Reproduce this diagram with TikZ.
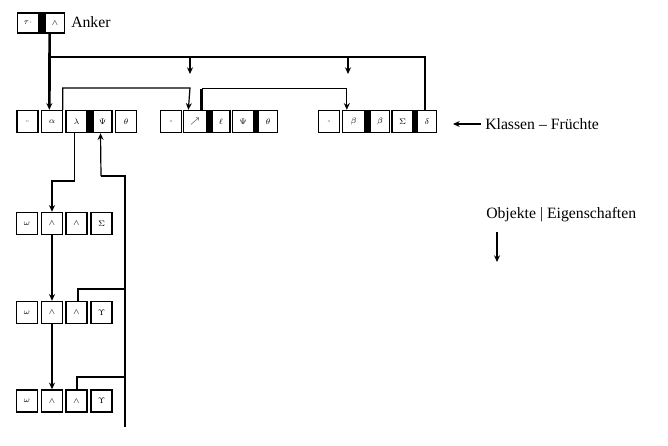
\documentclass[tikz,border=0pt]{standalone}
\usepackage{fontspec}
\setmainfont{Liberation Serif}
\usetikzlibrary{arrows.meta,calc}
\begin{document}
\begin{tikzpicture}[x=0.75pt,y=-0.75pt,
  cell/.style={draw,line width=1.1pt,minimum width=15.5pt,minimum height=16.5pt,inner sep=0pt,font=\fontsize{6.5}{6.5}\selectfont},
  bar/.style={fill=black},
  conn/.style={line width=0.9pt},
  thick conn/.style={line width=2pt},
  arr/.style={-{Stealth[length=5pt,width=4.5pt]}},
  lbl/.style={font=\fontsize{11.8}{13}\selectfont,anchor=west,inner sep=0pt}]
\useasboundingbox (0,0) rectangle (668,446);
% Anker
\node[cell,minimum height=15pt] (a1) at (28,23) {$\tau\cdot$};
\node[cell,minimum height=15pt,minimum width=14pt] (a2) at (55,23) {$\wedge$};
\fill[bar] (a1.north east) rectangle (a2.south west);
\node[lbl] (anker) at (71,22) {Anker};
% Group 1
\node[cell] (g1) at (27.5,121.5) {$\cdot\!\cdot$};
\node[cell] (g2) at (52,121.5) {$\alpha$};
\node[cell] (g3) at (76.5,121.5) {$\lambda$};
\node[cell,minimum width=14pt] (g4) at (102.5,121.5) {$\Psi$};
\node[cell] (g5) at (126,121.5) {$\theta$};
\fill[bar] (g3.north east) rectangle (g4.south west);
% Group 2
\node[cell] (h1) at (171,121.5) {$\cdot\!\cdot$};
\node[cell,minimum width=17pt] (h2) at (195,121.5) {$\nearrow$};
\node[cell,minimum width=13.5pt] (h3) at (221,121.5) {$\ell$};
\node[cell] (h4) at (243,121.5) {$\Psi$};
\node[cell,minimum width=14.5pt] (h5) at (268,121.5) {$\theta$};
\fill[bar] (h2.north east) rectangle (h3.south west);
\fill[bar] (h4.north east) rectangle (h5.south west);
% Group 3
\node[cell] (d1) at (329,121.5) {$\cdot\!\cdot$};
\node[cell,minimum width=16.5pt] (d2) at (353.5,121.5) {$\beta$};
\node[cell,minimum width=14.5pt] (d3) at (380,121.5) {$\beta$};
\node[cell] (d4) at (402.5,121.5) {$\Sigma$};
\node[cell,minimum width=14.5pt] (d5) at (427,121.5) {$\delta$};
\fill[bar] (d2.north east) rectangle (d3.south west);
\fill[bar] (d4.north east) rectangle (d5.south west);
% Klassen label
\node[lbl] (kl) at (485,124) {Klassen -- Früchte};
\draw[conn,arr] (kl.west) ++(-4,0) coordinate (klw) -- ++(-28,0);
% Objekte label
\node[lbl] (ob) at (486,215) {Objekte | Eigenschaften};
\coordinate (obs) at (497,232);
\draw[conn,arr] (obs) -- ++(0,30);
% object rows
\foreach \r/\yy/\s in {1/223.5/\Sigma,2/312.5/\Upsilon,3/401/\Upsilon}{
  \node[cell] (o\r1) at (27,\yy) {$\omega$};
  \node[cell] (o\r2) at (52,\yy) {$\wedge$};
  \node[cell] (o\r3) at (76.5,\yy) {$\wedge$};
  \node[cell] (o\r4) at (101.5,\yy) {$\s$};
}
% Anker connectors
\draw[thick conn,arr] ([xshift=-4]a2.south) -- ([xshift=-2]g2.north);
\draw[conn] ([xshift=-4]a2.south |- 0,57) -- (425,57) coordinate (tr) -- (d5.north -| tr);
\draw[conn,arr] (190,57) -- (190,74);
\draw[conn,arr] (348,57) -- (348,74);
% second level
\draw[conn,arr] ([xshift=8]g2.north) |- (190,88) -- ([xshift=-5]h2.north);
\draw[thick conn] ([xshift=5]h2.north) -- ++(0,-21);
\draw[conn,arr] ([xshift=5]h2.north) ++(0,-21) -| ([xshift=-5]d2.north);
% objects connectors
\draw[conn,arr] ([xshift=-1.5]g3.south) |- (52,181) -- (o12.north);
\draw[conn,arr] (o12.south) -- (o22.north);
\draw[conn,arr] (o22.south) -- (o32.north);
\draw[conn,arr] (101,176) -- ([xshift=-1.5]g4.south);
\draw[conn] (101,176) -| (125,427);
\draw[conn] (o23.north) ++(1.5,0) |- (125,289);
\draw[conn] (o33.north) ++(0.5,0) |- (125,377);
\end{tikzpicture}
\end{document}
